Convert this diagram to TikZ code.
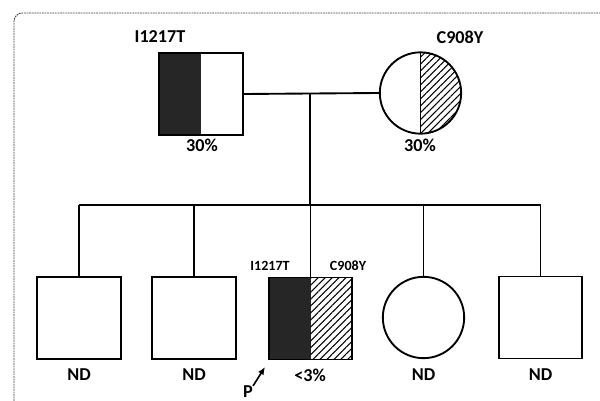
\documentclass[tikz,border=0pt]{standalone}
\usepackage{fontspec}
\setmainfont{Carlito}
\usetikzlibrary{positioning,patterns.meta,arrows.meta}

\tikzset{
  linea/.style={line width=1.6pt},
  individuo/.style={draw, linea, inner sep=0pt, fill=white},
  varon/.style={individuo, rectangle, minimum width=2.5cm, minimum height=2.46cm},
  mujer/.style={individuo, circle, minimum size=2.44cm},
  etiqueta/.style={inner sep=0pt, font=\fontsize{15.5}{16}\selectfont\bfseries},
  etiquetachica/.style={inner sep=0pt, font=\fontsize{12}{13}\selectfont\bfseries},
  rayado/.style={pattern={Lines[angle=45,distance=4.2pt,line width=0.9pt]}},
  % mitad izquierda oscura (I1217T)
  oscuro/.style={path picture={
      \fill[black!85] (path picture bounding box.north west) rectangle (path picture bounding box.south);}},
  % mitad derecha rayada (C908Y)
  rayadoder/.style={path picture={
      \fill[rayado] (path picture bounding box.north) rectangle (path picture bounding box.south east);
      \draw[linea] (path picture bounding box.north) -- (path picture bounding box.south);}},
  % ambas mutaciones
  doble/.style={path picture={
      \fill[black!85] (path picture bounding box.north west) rectangle (path picture bounding box.south);
      \fill[rayado] (path picture bounding box.north) rectangle (path picture bounding box.south east);}},
}

\begin{document}
\begin{tikzpicture}[x=0.03cm, y=-0.03cm]
  \useasboundingbox (0,0) rectangle (600,401);

  % Marco (solo se ven los bordes izquierdo y superior)
  \draw[black!75, line width=0.8pt, dash pattern=on 1.5pt off 0.7pt, rounded corners=0.25cm]
    (14,401) |- (600,13);

  % Padres
  \node[varon, oscuro] (padre) at (201,94) {};
  \node[mujer, rayadoder] (madre) at (420.5,93) {};
  \node[etiqueta] (mutpadre) at (160,37) {I1217T};
  \node[etiqueta] (mutmadre) at (460,37) {C908Y};
  \node[etiqueta] (porcpadre) at (202,145) {30\%};
  \node[etiqueta] (porcmadre) at (420,145) {30\%};

  % Hijos
  \node[varon] (h1) at (79,318) {};
  \node[varon] (h2) at (194,318) {};
  \node[varon, doble] (prob) at (310.5,318.5) {};
  \node[mujer] (h4) at (423.5,317.5) {};
  \node[varon] (h5) at (540.5,317.5) {};

  % Lineas de parentesco
  \coordinate (pareja) at (310,94);
  \coordinate (hermanos) at (310,205);
  \draw[linea] (padre.east) -- (madre.west);
  \draw[linea] (pareja) -- (hermanos);
  \draw[linea] (h1.north |- hermanos) -- (h5.north |- hermanos);
  \foreach \h in {h1,h2,prob,h4,h5}
    \draw[linea] (\h.north) -- (\h.north |- hermanos);

  % Etiquetas de los hijos
  \foreach \h in {h1,h2,h4,h5}
    \node[etiqueta] (nd\h) at ([yshift=-1.7cm]\h) {ND};
  \node[etiquetachica] (mutprobi) at (270,266) {I1217T};
  \node[etiquetachica] (mutprobc) at (348,266) {C908Y};
  \node[etiqueta] (porcprob) at (310,375) {<3\%};

  % Probando
  \node[etiqueta] (letraP) at (248,392) {P};
  \coordinate (punta) at (265,367);
  \draw[line width=1.4pt, -{Latex[length=6.5pt,width=5.5pt]}] (letraP.north east) -- (punta);
\end{tikzpicture}
\end{document}
